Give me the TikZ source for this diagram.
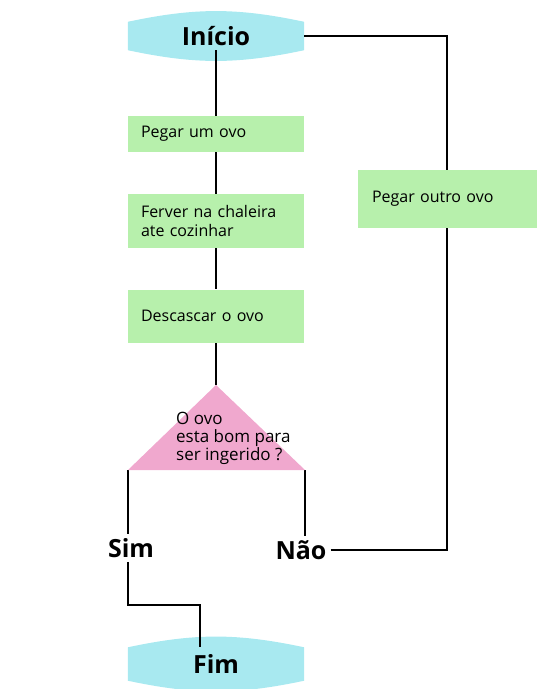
\documentclass[tikz,border=0pt]{standalone}
\usepackage{fontspec}
\setmainfont{Open Sans}
\usepackage{tikz}
\usetikzlibrary{positioning, backgrounds}
\usetikzlibrary{calc}

\definecolor{termcyan}{RGB}{168,233,240}
\definecolor{stepgreen}{RGB}{183,240,172}
\definecolor{askpink}{RGB}{240,168,206}

\begin{document}
\begin{tikzpicture}[x=1pt, y=1pt, on grid, line/.style={line width=2.8pt, black}, term/.style={minimum width=176pt, minimum height=28pt, inner sep=0pt, font=\bfseries\fontsize{25}{25}\selectfont}, act/.style={fill=stepgreen, minimum width=176pt, inner sep=0pt, text width=150pt, align=left, font=\fontsize{16}{19}\selectfont}, ans/.style={inner sep=0pt, font=\bfseries\fontsize{25}{25}\selectfont}]
\useasboundingbox (0,0) rectangle (550,-689);
\node[term] (start) at (216,-36) {Início};
\node[act, minimum height=36pt] (egg) [below = 98pt of start] {Pegar um ovo};
\node[act, minimum height=54pt] (boil) [below = 87pt of egg] {Ferver na chaleira\\ate cozinhar};
\node[act, minimum height=53pt] (peel) [below = 95pt of boil] {Descascar o ovo};
\node[act, minimum width=179pt, minimum height=58pt] (other) at (447,-199) {Pegar outro ovo};
\coordinate (qt) at (216,-385);
\coordinate (ql) at (128,-470);
\coordinate (qr) at (305,-470);
\fill[askpink] (qt) -- (qr) -- (ql) -- cycle;
\node[align=left, anchor=north west, inner sep=0pt, font=\fontsize{17}{18}\selectfont] (ask) at (176,-412) {O ovo\\esta bom para\\ser ingerido ?};
\node[ans] (sim) at (131,-548) {Sim};
\node[ans] (nao) at (301,-550) {Não};
\node[term, minimum height=33pt] (end) at (216,-664) {Fim};
\coordinate (bend) at (200,-605);
\begin{scope}[on background layer]
\foreach \t in {start,end}
  \fill[termcyan] (\t.north west) to[bend left=12] (\t.north east) -- (\t.south east) to[bend left=12] (\t.south west) -- cycle;
\draw[line] (start) -- (egg) -- (boil) -- (peel) -- (qt);
\draw[line] (ql) -- ([yshift=4pt]ql |- sim.north);
\draw[line] ([yshift=-4pt]ql |- sim.south) |- (bend) -- (bend |- end.north);
\draw[line] (qr) -- ([yshift=4pt]qr |- nao.north);
\draw[line] ([xshift=4pt]nao.east) -| (other) |- (start.east);
\end{scope}
\end{tikzpicture}
\end{document}
